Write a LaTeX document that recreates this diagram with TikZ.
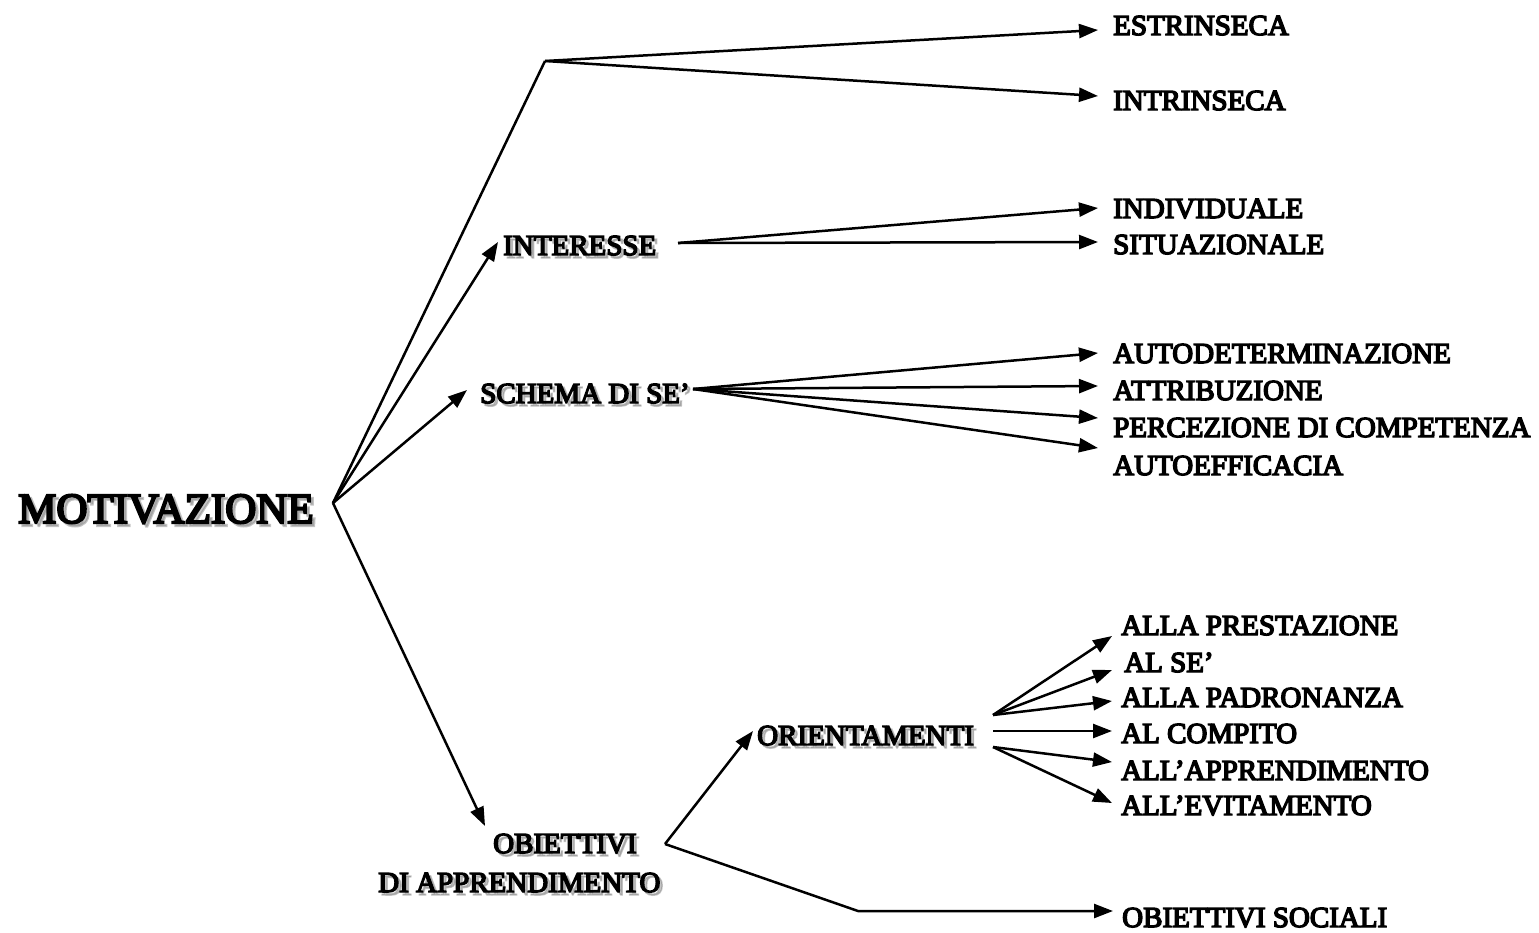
\documentclass[tikz,border=0pt]{standalone}
\usepackage{fontspec}
\setmainfont{Liberation Serif}[FakeBold=5]
\usetikzlibrary{arrows.meta}

% label with a soft grey drop shadow: name, x, y (base west), text, extra style
\newcommand\shadowlabel[5]{%
  \node[lab,#5,text=black!50,opacity=0.45] (#1-shadow) at (#2+3,#3+3) {#4};
  \node[lab,#5] (#1) at (#2,#3) {#4};}

\begin{document}
\begin{tikzpicture}[x=1pt,y=-1pt,
  conn/.style={line width=2.5pt,line join=round},
  arr/.style={conn,-{Triangle[length=19pt,width=14pt]}},
  lab/.style={font=\fontsize{29}{29}\selectfont,inner sep=0pt,anchor=base west},
  big/.style={font=\fontsize{43}{43}\selectfont}]
\useasboundingbox[fill=white] (0,0) rectangle (1539,932);

% root and middle level
\shadowlabel{mot}{18}{523}{MOTIVAZIONE}{big}
\shadowlabel{int}{503}{255}{INTERESSE}{}
\shadowlabel{sch}{480}{403}{SCHEMA DI SE’}{}
\shadowlabel{obA}{493}{853}{OBIETTIVI}{}
\shadowlabel{obB}{378}{892}{DI APPRENDIMENTO}{}
\shadowlabel{ori}{757}{745}{ORIENTAMENTI}{}

% leaves
\node[lab] (est) at (1113,35) {ESTRINSECA};
\node[lab] (intr) at (1113,110) {INTRINSECA};
\node[lab] (ind) at (1113,218) {INDIVIDUALE};
\node[lab] (sit) at (1113,254) {SITUAZIONALE};
\node[lab] (aut) at (1113,363) {AUTODETERMINAZIONE};
\node[lab] (att) at (1113,400) {ATTRIBUZIONE};
\node[lab] (per) at (1113,437) {PERCEZIONE DI COMPETENZA};
\node[lab] (aef) at (1113,475) {AUTOEFFICACIA};
\node[lab] (pre) at (1121,635) {ALLA PRESTAZIONE};
\node[lab] (ase) at (1124,672) {AL SE’};
\node[lab] (pad) at (1121,707) {ALLA PADRONANZA};
\node[lab] (com) at (1121,743) {AL COMPITO};
\node[lab] (app) at (1121,780) {ALL’APPRENDIMENTO};
\node[lab] (evi) at (1121,815) {ALL’EVITAMENTO};
\node[lab] (soc) at (1122,927) {OBIETTIVI SOCIALI};

% junction points and arrow ends
\coordinate (root) at (333,503);
\coordinate (fork) at (545,61);
\coordinate (intIn) at (498,242);
\coordinate (schIn) at (467,390);
\coordinate (obIn) at (485,826);
\coordinate (intOut) at (678,243);
\coordinate (schOut) at (693,389);
\coordinate (obOut) at (665,844);
\coordinate (oriIn) at (753,731);
\coordinate (oriUp) at (993,715);
\coordinate (oriMid) at (993,731);
\coordinate (oriLow) at (993,747);
\coordinate (bend) at (858,911);

\coordinate (estT) at (1098,30);
\coordinate (intrT) at (1098,96);
\coordinate (indT) at (1098,208);
\coordinate (sitT) at (1098,242);
\coordinate (autT) at (1098,353);
\coordinate (attT) at (1098,386);
\coordinate (perT) at (1098,418);
\coordinate (aefT) at (1098,448);
\coordinate (preT) at (1112,636);
\coordinate (aseT) at (1112,670);
\coordinate (padT) at (1112,701);
\coordinate (comT) at (1112,731);
\coordinate (appT) at (1112,762);
\coordinate (eviT) at (1112,803);
\coordinate (socT) at (1113,911);

% connectors from the root
\draw[conn] (root) -- (fork);
\draw[arr] (fork) -- (estT);
\draw[arr] (fork) -- (intrT);
\draw[arr] (root) -- (intIn);
\draw[arr] (root) -- (schIn);
\draw[arr] (root) -- (obIn);

% interesse
\draw[arr] (intOut) -- (indT);
\draw[arr] (intOut) -- (sitT);

% schema di se'
\draw[arr] (schOut) -- (autT);
\draw[arr] (schOut) -- (attT);
\draw[arr] (schOut) -- (perT);
\draw[arr] (schOut) -- (aefT);

% obiettivi di apprendimento
\draw[arr] (obOut) -- (oriIn);
\draw[arr] (obOut) -- (bend) -- (socT);

% orientamenti
\draw[arr] (oriUp) -- (preT);
\draw[arr] (oriUp) -- (aseT);
\draw[arr] (oriUp) -- (padT);
\draw[arr] (oriMid) -- (comT);
\draw[arr] (oriLow) -- (appT);
\draw[arr] (oriLow) -- (eviT);
\end{tikzpicture}
\end{document}
